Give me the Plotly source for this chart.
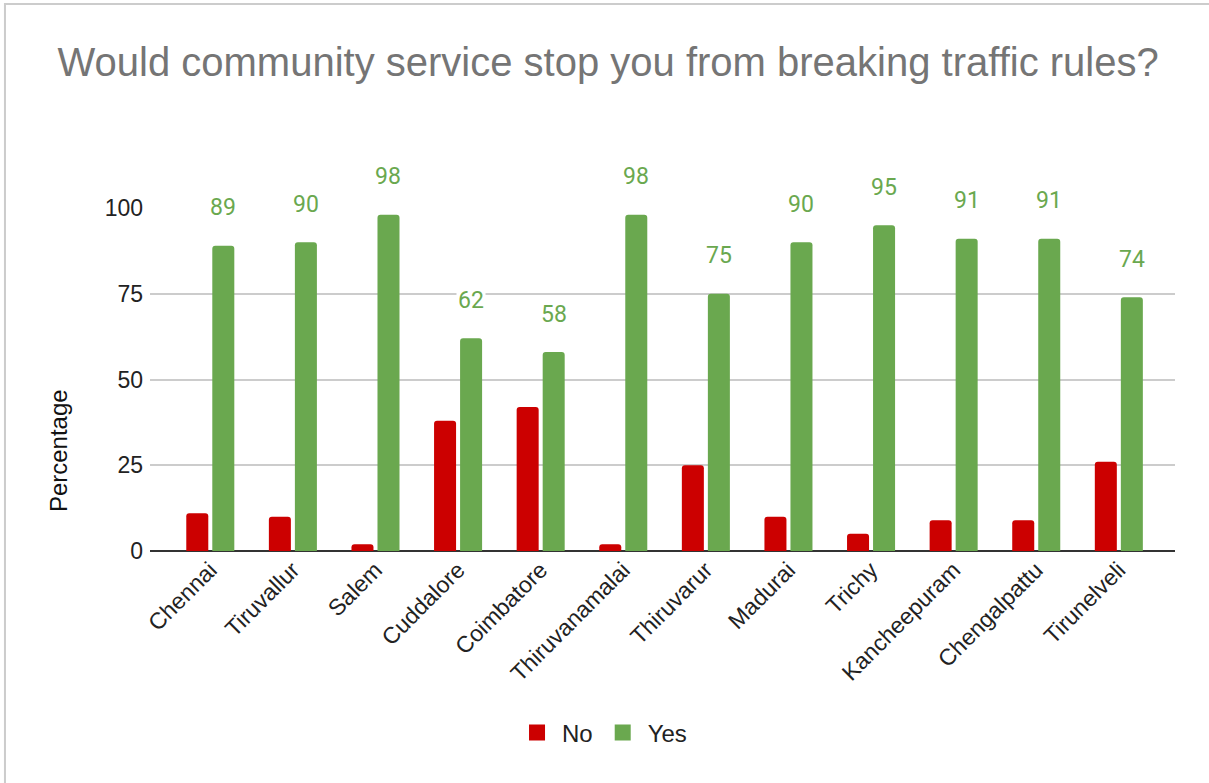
import plotly.graph_objects as go

# Survey responses by district (percentages)
districts = ["Chennai", "Tiruvallur", "Salem", "Cuddalore", "Coimbatore",
             "Thiruvanamalai", "Thiruvarur", "Madurai", "Trichy",
             "Kancheepuram", "Chengalpattu", "Tirunelveli"]
no_pct = [11, 10, 2, 38, 42, 2, 25, 10, 5, 9, 9, 26]
yes_pct = [89, 90, 98, 62, 58, 98, 75, 90, 95, 91, 91, 74]
y_ticks = [0, 25, 50, 75, 100]

RED = "#cc0000"
GREEN = "#6aa84f"
AXIS_FONT = "Liberation Sans, Arial, sans-serif"

fig = go.Figure()
fig.add_trace(go.Bar(name="No", x=districts, y=no_pct, showlegend=False,
                     marker=dict(color=RED, cornerradius=3, line=dict(width=0))))
fig.add_trace(go.Bar(name="Yes", x=districts, y=yes_pct, showlegend=False,
                     marker=dict(color=GREEN, cornerradius=3, line=dict(width=0))))

# legend entries with larger square swatches
for name, color in [("No", RED), ("Yes", GREEN)]:
    fig.add_trace(go.Scatter(name=name, x=[None], y=[None], mode="markers",
                             marker=dict(symbol="square", size=24, color=color)))

# value labels above the "Yes" bars
for d, v in zip(districts, yes_pct):
    fig.add_annotation(x=d, y=v, text=str(v), showarrow=False,
                       xshift=13, yshift=38, yanchor="middle",
                       bgcolor="white", borderpad=1,
                       font=dict(family="Roboto, sans-serif", size=23, color=GREEN))

# y-axis title
fig.add_annotation(text="Percentage", xref="paper", yref="paper",
                   x=-0.0898, y=0.294, textangle=-90, showarrow=False,
                   xanchor="center", yanchor="middle",
                   font=dict(family=AXIS_FONT, size=24, color="#111111"))

# outer frame
fig.add_shape(type="rect", xref="paper", yref="paper",
              x0=-0.1415, x1=1.2, y0=-0.72, y1=1.595,
              line=dict(color="#cccccc", width=2), fillcolor="rgba(0,0,0,0)")

fig.update_layout(
    width=1209, height=783,
    margin=dict(l=150, r=34, t=208, b=232),
    paper_bgcolor="white", plot_bgcolor="white",
    barmode="group", bargap=0.37, bargroupgap=0.154,
    title=dict(text="Would community service stop you from breaking traffic rules?",
               x=0.503, xanchor="center", y=0.921, yanchor="middle",
               font=dict(family=AXIS_FONT, size=40, color="#757575")),
    xaxis=dict(range=[-0.73, 11.68], tickangle=-45, showgrid=False,
               showline=False, zeroline=False, ticks="",
               tickfont=dict(family=AXIS_FONT, size=23, color="#222222")),
    yaxis=dict(range=[0, 100], tickvals=y_ticks, showgrid=True,
               gridcolor="#cccccc", gridwidth=1.5, zeroline=True,
               zerolinecolor="#333333", zerolinewidth=2, ticks="",
               showline=False, ticklabelstandoff=6,
               tickfont=dict(family=AXIS_FONT, size=23, color="#222222")),
    legend=dict(orientation="h", x=0.441, xanchor="center", y=-0.53,
                yanchor="middle", font=dict(family=AXIS_FONT, size=24, color="#222222"),
                itemwidth=40),
)

fig.write_html("out.html")
